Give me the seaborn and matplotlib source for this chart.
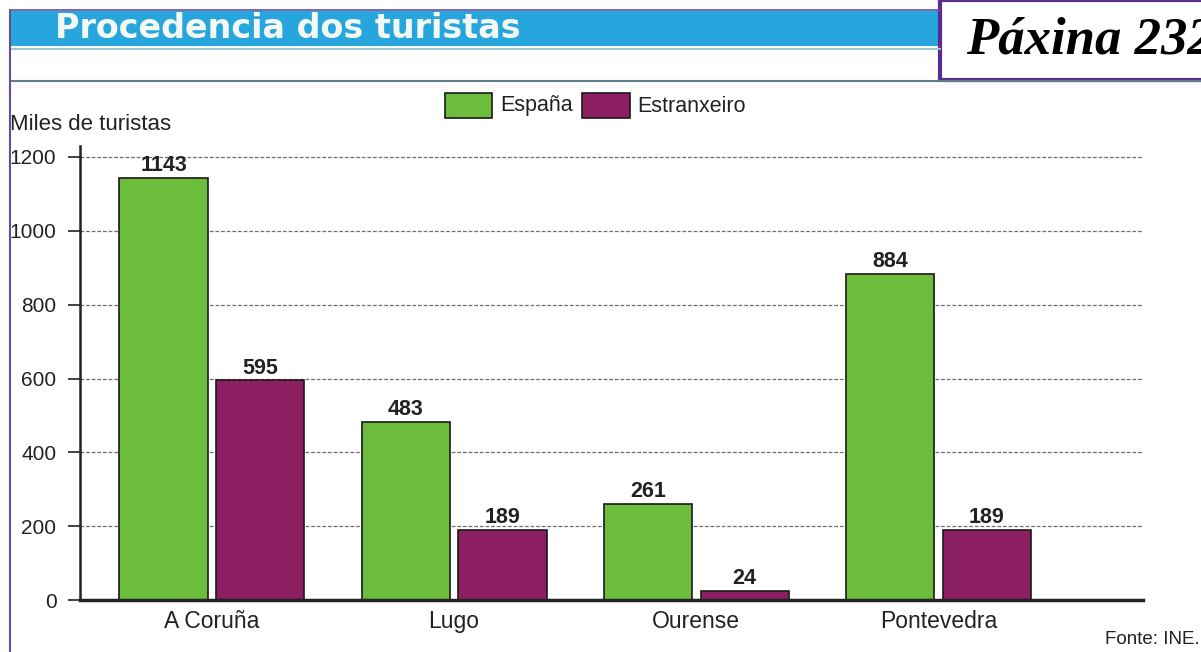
import matplotlib
matplotlib.use("Agg")
import matplotlib.pyplot as plt
import seaborn as sns
import pandas as pd
from matplotlib.patches import Rectangle

provinces = ["A Coruña", "Lugo", "Ourense", "Pontevedra"]
series_names = ["España", "Estranxeiro"]
espana = [1143, 483, 261, 884]
estranxeiro = [595, 189, 24, 189]
yticks = [0, 200, 400, 600, 800, 1000, 1200]

GREEN = "#6cbd3c"
PURPLE = "#8c1f61"

sns.set_theme(style="white")
plt.rcParams["font.family"] = ["Liberation Sans", "DejaVu Sans"]

df = pd.DataFrame({
    "Provincia": provinces * 2,
    "Serie": [series_names[0]] * len(provinces) + [series_names[1]] * len(provinces),
    "Valor": espana + estranxeiro,
})

W, H = 1201, 652
fig = plt.figure(figsize=(W / 100, H / 100), dpi=100)
fig.patch.set_facecolor("white")

# axes placement in pixels
ax_left, ax_right = 80, 1143
ax_bottom_px, ax_top_px = 600, 146
ax = fig.add_axes([ax_left / W, (H - ax_bottom_px) / H,
                   (ax_right - ax_left) / W, (ax_bottom_px - ax_top_px) / H])
ax.set_facecolor("none")

sns.barplot(data=df, x="Provincia", y="Valor", hue="Serie",
            palette=[GREEN, PURPLE], saturation=1, width=0.8, gap=0.09,
            edgecolor="#1a1a1a", linewidth=1.2, ax=ax, legend=False, zorder=3)

ymax = 1200 * (ax_bottom_px - ax_top_px) / (ax_bottom_px - 157)
ax.set_ylim(0, ymax)
ax.set_xlim(-0.545, 3.845)
ax.set_yticks(yticks)
ax.set_yticklabels([str(v) for v in yticks], fontsize=15, color="#222222")
ax.tick_params(axis="y", left=True, direction="out", length=9, width=1.2,
               color="#222222", pad=8)
ax.tick_params(axis="x", bottom=False, length=0, pad=7, labelsize=16.5, labelcolor="#222222")
ax.set_xlabel("")
ax.set_ylabel("")

for y in yticks[1:]:
    ax.axhline(y, color="#6f6f6f", linewidth=0.9, linestyle=(0, (3, 1.5)), zorder=1)

for s in ["top", "right"]:
    ax.spines[s].set_visible(False)
ax.spines["left"].set_color("#222222")
ax.spines["left"].set_linewidth(1.8)
ax.spines["bottom"].set_color("#222222")
ax.spines["bottom"].set_linewidth(2.5)
ax.spines["bottom"].set_zorder(5)

for cont in ax.containers:
    for bar in cont:
        h = bar.get_height()
        ax.text(bar.get_x() + bar.get_width() / 2, h + 5, f"{int(round(h))}",
                ha="center", va="bottom", fontsize=15.5, fontweight="bold",
                color="#222222", zorder=6)

# Header banner
def px_rect(x0, y0, x1, y1, **kw):
    r = Rectangle((x0 / W, 1 - y1 / H), (x1 - x0) / W, (y1 - y0) / H,
                  transform=fig.transFigure, **kw)
    fig.add_artist(r)
    return r

px_rect(10, 11, 940, 46, facecolor="#27a6de", edgecolor="none")
fig.text(55 / W, 1 - 38 / H, "Procedencia dos turistas", color="#f4f8f4",
         fontsize=24, fontweight="bold", va="baseline", ha="left",
         family=["DejaVu Sans"])
fig.add_artist(plt.Line2D([10 / W, 940 / W], [1 - 49 / H, 1 - 49 / H],
                          transform=fig.transFigure, color="#9cc9d8", lw=1.5))
fig.add_artist(plt.Line2D([10 / W, 1201 / W], [1 - 81 / H, 1 - 81 / H],
                          transform=fig.transFigure, color="#5f7f86", lw=1.5))
fig.add_artist(plt.Line2D([10 / W, 10 / W], [1 - 10 / H, 0],
                          transform=fig.transFigure, color="#6a4a9a", lw=1.5))
fig.add_artist(plt.Line2D([10 / W, 940 / W], [1 - 10 / H, 1 - 10 / H],
                          transform=fig.transFigure, color="#6a4a9a", lw=1.2))

# Page box (the page label is cut at the right edge, as in the scan)
px_rect(940, 0, 1215, 80, facecolor="white", edgecolor="#5a2d8c", linewidth=3)
fig.text(966 / W, 1 - 41 / H, "Páxina 232", fontsize=38, fontweight="bold",
         fontstyle="italic", family=["Liberation Serif", "DejaVu Serif"],
         va="center", ha="left", color="black")

# Legend
px_rect(445, 93, 492, 118, facecolor=GREEN, edgecolor="#1a1a1a", linewidth=1.2)
fig.text(500 / W, 1 - 106 / H, series_names[0], fontsize=15.5, va="center", color="#222222")
px_rect(582, 93, 630, 118, facecolor=PURPLE, edgecolor="#1a1a1a", linewidth=1.2)
fig.text(637 / W, 1 - 106 / H, series_names[1], fontsize=15.5, va="center", color="#222222")

fig.text(10 / W, 1 - 124 / H, "Miles de turistas", fontsize=16, va="center", color="#222222")
fig.text(1105 / W, 1 - 640 / H, "Fonte: INE.", fontsize=13.5, va="center", color="#222222")

fig.savefig("out.png", dpi=100)
